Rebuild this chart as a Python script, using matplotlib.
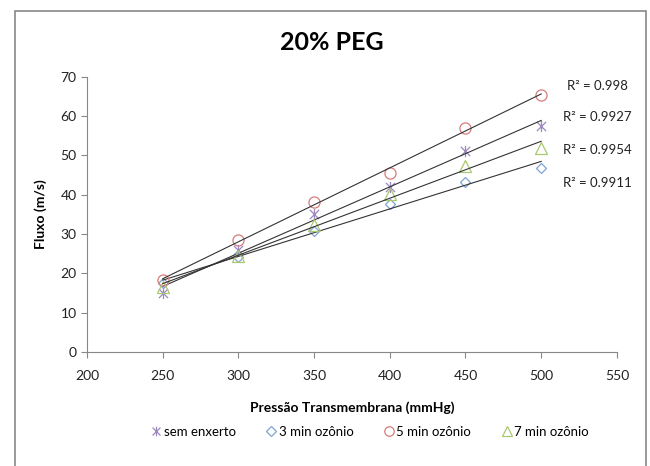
import matplotlib
matplotlib.use("Agg")
import matplotlib.pyplot as plt
from matplotlib.patches import Rectangle
from matplotlib.path import Path
import numpy as np

plt.rcParams['font.family'] = ['Lato', 'DejaVu Sans']

pressao = [250, 300, 350, 400, 450, 500]
sem_enxerto = [14.9, 25.9, 35.2, 42.0, 51.2, 57.5]
min3 = [17.4, 24.2, 30.8, 37.6, 43.3, 46.9]
min5 = [18.2, 28.4, 38.2, 45.6, 57.0, 65.4]
min7 = [16.6, 24.4, 32.3, 40.3, 47.3, 52.0]

# excel style star: X plus a vertical bar
star = Path([(-1, -1), (1, 1), (-1, 1), (1, -1), (0, -1.2), (0, 1.2)],
            [Path.MOVETO, Path.LINETO, Path.MOVETO, Path.LINETO, Path.MOVETO, Path.LINETO])

series = [
    ("sem enxerto", sem_enxerto, star, "#9C88C0", 8),
    ("3 min ozônio", min3, "D", "#7FA3D6", 5.5),
    ("5 min ozônio", min5, "o", "#D67C79", 8),
    ("7 min ozônio", min7, "^", "#A9C870", 8),
]
r2_labels = ["R² = 0.998", "R² = 0.9927", "R² = 0.9954", "R² = 0.9911"]
r2_y = [67.7, 59.8, 51.4, 43.0]

fig = plt.figure(figsize=(6.5, 4.66), dpi=100)
ax = fig.add_axes([0.134, 0.245, 0.815, 0.59])

x = np.array(pressao)
for name, ys, mk, col, ms in series:
    ax.plot(x, ys, linestyle="none", marker=mk, markersize=ms,
            markerfacecolor="none", markeredgecolor=col, markeredgewidth=0.9,
            color=col, label=name)
    a, b = np.polyfit(x, ys, 1)
    ax.plot(x[[0, -1]], a * x[[0, -1]] + b, color="#333333", lw=0.8)

for lab, yy in zip(r2_labels, r2_y):
    ax.text(537, yy, lab, ha="center", va="center", fontsize=9.5, color="#222222")

ax.set_xlim(200, 550)
ax.set_ylim(0, 70)
ax.set_xticks(range(200, 551, 50))
ax.set_yticks(range(0, 71, 10))
for s in ["top", "right"]:
    ax.spines[s].set_visible(False)
for s in ["left", "bottom"]:
    ax.spines[s].set_color("#888888")
    ax.spines[s].set_linewidth(0.8)
ax.tick_params(colors="#888888", labelcolor="#222222", labelsize=10, length=4, width=0.8)
ax.tick_params(axis="x", pad=9)

ax.set_xlabel("Pressão Transmembrana (mmHg)", fontsize=10, fontweight="bold", labelpad=14)
ax.set_ylabel("Fluxo (m/s)", fontsize=10, fontweight="bold", labelpad=10)
fig.text(0.51, 0.908, "20% PEG", ha="center", va="center", fontsize=18, fontweight="bold")

fig.legend(loc="center", bbox_to_anchor=(0.568, 0.073), ncol=4, frameon=False,
           fontsize=9.5, handletextpad=0.05, columnspacing=2.2, handlelength=1.0,
           markerscale=0.85)

fig.patches.append(Rectangle((0.023, -0.02), 0.971, 0.996, transform=fig.transFigure,
                             fill=False, edgecolor="#888888", lw=1.2))

fig.savefig("out.png", dpi=100)
